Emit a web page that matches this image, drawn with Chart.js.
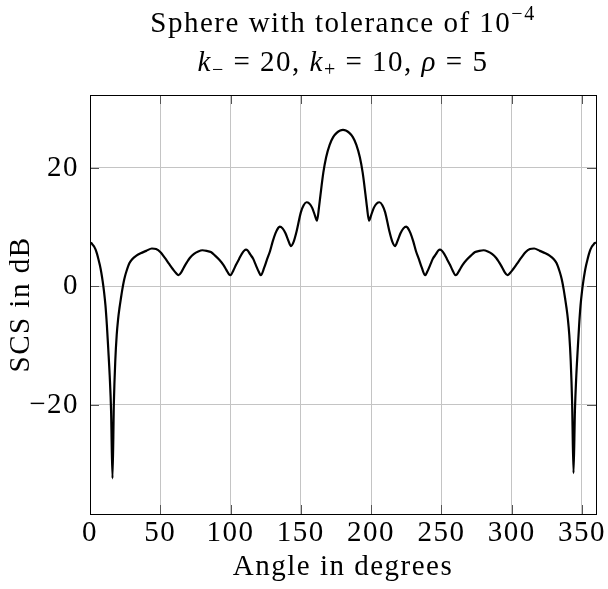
<!DOCTYPE html>
<html>
<head>
<meta charset="utf-8">
<title>Sphere with tolerance</title>
<script src="https://cdn.jsdelivr.net/npm/chart.js@4.4.0/dist/chart.umd.min.js"></script>
<style>
  html, body { margin: 0; padding: 0; background: #ffffff; }
  #wrap { width: 608px; height: 589px; position: relative; }
</style>
</head>
<body>
<div id="wrap"><canvas id="scsChart" width="608" height="589"></canvas></div>
<script>
// angle in degrees
const angles = [
  0, 1, 2, 3, 4, 5, 6, 7, 8, 9, 10, 11, 12, 13, 14, 15, 16, 17, 18, 19, 20,
  21, 22, 23, 24, 25, 26, 28, 30, 33, 36, 40, 44, 47, 50, 53, 56, 59, 61, 63,
  65, 67, 69, 71, 74, 77, 80, 83, 86, 89, 92, 95, 97, 99, 100, 102, 104, 106,
  108, 110, 111, 112, 114, 116, 118, 120, 121.5, 124, 126, 128, 130, 132, 134,
  135, 137, 139, 141, 143, 145, 147, 150, 152, 154, 156, 158, 160, 161.5, 163,
  164, 166, 168, 170.5, 173, 175.5, 178, 180,
  182, 184.5, 187, 189.5, 192, 194, 196, 197, 198.5, 200, 202, 204, 206, 208,
  210, 213, 215, 217, 219, 221, 223, 225, 226, 228, 230, 232, 234, 236, 238.5,
  240, 242, 244, 246, 248, 249, 250, 252, 254, 256, 258, 260, 261, 263, 265,
  268, 271, 274, 277, 280, 283, 286, 289, 291, 293, 295, 297, 299, 301, 304,
  307, 310, 313, 316, 320, 324, 327, 330, 332, 334, 335, 336, 337, 338, 339,
  340, 341, 342, 343, 344, 345, 346, 347, 348, 349, 350, 351, 352, 353, 354,
  355, 356, 357, 358, 359, 360
];

// SCS in dB
const scsValues = [
  7.4, 7.3, 7.0, 6.7, 6.2, 5.5, 4.6, 3.6, 2.4, 0.9, -0.9, -3.2, -6.5, -10.6, -15.0, -21.0, -32.4, -19.5, -12.5, -8.2, -5.5,
  -3.6, -2.0, -0.5, 0.8, 1.8, 2.6, 3.9, 4.6, 5.2, 5.6, 6.0, 6.4, 6.3, 5.8, 4.9, 3.9, 2.9, 2.3, 1.9,
  2.4, 3.3, 4.1, 4.8, 5.5, 5.9, 6.1, 6.0, 5.8, 5.2, 4.5, 3.6, 2.8, 2.0, 1.9, 2.7, 3.7, 4.6,
  5.5, 6.1, 6.2, 6.1, 5.4, 4.7, 3.6, 2.5, 1.9, 3.2, 4.6, 5.9, 7.6, 9.0, 9.9,
  10.1, 9.8, 9.0, 7.8, 6.8, 7.6, 9.3, 12.5, 13.7, 14.2, 14.0, 13.3, 12.0, 11.1, 13.5,
  15.5, 19.2, 21.8, 23.9, 25.2, 25.9, 26.3, 26.4,
  26.3, 25.9, 25.2, 23.9, 21.8, 19.2, 15.5, 13.5, 11.1, 12.0, 13.3, 14.0, 14.2, 13.7,
  12.5, 9.3, 7.6, 6.8, 7.8, 9.0, 9.8, 10.1, 9.9, 9.0, 7.6, 5.9, 4.6, 3.2, 1.9,
  2.5, 3.6, 4.7, 5.4, 6.1, 6.2, 6.1, 5.5, 4.6, 3.7, 2.7, 1.9, 2.0, 2.8, 3.6,
  4.5, 5.2, 5.8, 6.0, 6.1, 5.9, 5.5, 4.8, 4.1, 3.3, 2.4, 1.9, 2.3, 2.9, 3.9,
  4.9, 5.8, 6.3, 6.4, 6.0, 5.6, 5.2, 4.6, 3.9, 2.6, 1.8, 0.8, -0.5, -2.0, -3.6,
  -5.5, -8.2, -12.5, -19.5, -31.5, -21.0, -15.0, -10.6, -6.5, -3.2, -0.9, 0.9, 2.4, 3.6, 4.6,
  5.5, 6.2, 6.7, 7.0, 7.3, 7.4
];

const xTicks = [0, 50, 100, 150, 200, 250, 300, 350];
const yTicks = [-20, 0, 20];

const SERIF = "'Liberation Serif', 'Times New Roman', serif";

// title pieces: text, size, italic, vertical shift
const titleLine1 = [
  { t: "Sphere with tolerance of 10", s: 29 },
  { t: "\u22124", s: 20, dy: -12 }
];
const titleLine2 = [
  { t: "k", s: 29, it: true },
  { t: "\u2212", s: 20, dy: 5 },
  { t: " = 20, ", s: 29 },
  { t: "k", s: 29, it: true },
  { t: "+", s: 20, dy: 5 },
  { t: " = 10, ", s: 29 },
  { t: "\u03c1", s: 29, it: true },
  { t: " = 5", s: 29 }
];

function runFont(r) {
  return (r.it ? "italic " : "") + r.s + "px " + SERIF;
}

function drawRuns(ctx, runs, cx, baseline) {
  let total = 0;
  runs.forEach((r) => {
    ctx.font = runFont(r);
    r.w = ctx.measureText(r.t).width;
    total += r.w;
  });
  let x = cx - total / 2;
  runs.forEach((r) => {
    ctx.font = runFont(r);
    ctx.fillText(r.t, x, baseline + (r.dy || 0));
    x += r.w;
  });
}

// the reference font (Computer Modern) runs wider than Liberation Serif
const spacingPlugin = {
  id: "spacing",
  beforeDraw(chart) {
    chart.ctx.letterSpacing = "1.5px";
  }
};

const titlePlugin = {
  id: "mathTitle",
  afterDraw(chart) {
    const ctx = chart.ctx;
    const area = chart.chartArea;
    const cx = (area.left + area.right) / 2;
    ctx.save();
    ctx.fillStyle = "#000000";
    ctx.textAlign = "left";
    ctx.textBaseline = "alphabetic";
    drawRuns(ctx, titleLine1, cx, 32);
    drawRuns(ctx, titleLine2, cx, 71);
    ctx.restore();
  }
};

// frame and inward tick marks on all four sides
const framePlugin = {
  id: "frame",
  afterDraw(chart) {
    const ctx = chart.ctx;
    const a = chart.chartArea;
    const xs = chart.scales.x;
    const ys = chart.scales.y;
    const len = 9;
    ctx.save();
    ctx.strokeStyle = "#555555";
    ctx.lineWidth = 1;
    ctx.beginPath();
    xTicks.forEach((v) => {
      const px = Math.round(xs.getPixelForValue(v)) + 0.5;
      ctx.moveTo(px, a.top);
      ctx.lineTo(px, a.top + len);
      ctx.moveTo(px, a.bottom);
      ctx.lineTo(px, a.bottom - len);
    });
    yTicks.forEach((v) => {
      const py = Math.round(ys.getPixelForValue(v)) + 0.5;
      ctx.moveTo(a.left, py);
      ctx.lineTo(a.left + len, py);
      ctx.moveTo(a.right, py);
      ctx.lineTo(a.right - len, py);
    });
    ctx.stroke();
    ctx.strokeStyle = "#000000";
    ctx.strokeRect(
      Math.round(a.left) + 0.5,
      Math.round(a.top) + 0.5,
      Math.round(a.right - a.left),
      Math.round(a.bottom - a.top)
    );
    ctx.restore();
  }
};

const ctx = document.getElementById("scsChart").getContext("2d");
new Chart(ctx, {
  type: "line",
  data: {
    datasets: [
      {
        data: angles.map((a, i) => ({ x: a, y: scsValues[i] })),
        borderColor: "#000000",
        borderWidth: 2.2,
        pointRadius: 0,
        cubicInterpolationMode: "monotone",
        fill: false
      }
    ]
  },
  options: {
    responsive: false,
    animation: false,
    layout: {
      padding: { top: 95, right: 12, left: 0, bottom: 0 }
    },
    plugins: {
      legend: { display: false },
      title: { display: false },
      tooltip: { enabled: false }
    },
    scales: {
      x: {
        type: "linear",
        min: 0,
        max: 360,
        afterFit: (scale) => {
          scale.height = 75;
        },
        afterBuildTicks: (scale) => {
          scale.ticks = xTicks.map((v) => ({ value: v }));
        },
        ticks: {
          color: "#000000",
          font: { family: SERIF, size: 29 },
          padding: 2,
          maxRotation: 0,
          autoSkip: false
        },
        grid: {
          color: "#c4c4c4",
          lineWidth: 1,
          drawTicks: false
        },
        border: { display: false },
        title: {
          display: true,
          text: "Angle in degrees",
          color: "#000000",
          font: { family: SERIF, size: 29 },
          padding: { top: 4, bottom: 4 }
        }
      },
      y: {
        min: -38.4,
        max: 32.3,
        afterFit: (scale) => {
          scale.width = 90;
        },
        afterBuildTicks: (scale) => {
          scale.ticks = yTicks.map((v) => ({ value: v }));
        },
        ticks: {
          color: "#000000",
          font: { family: SERIF, size: 29 },
          padding: 11,
          callback: (v) => (v < 0 ? "\u2212" + Math.abs(v) : String(v))
        },
        grid: {
          color: "#c4c4c4",
          lineWidth: 1,
          drawTicks: false
        },
        border: { display: false },
        title: {
          display: true,
          text: "SCS in dB",
          color: "#000000",
          font: { family: SERIF, size: 29 },
          padding: { top: 4, bottom: 4 }
        }
      }
    }
  },
  plugins: [spacingPlugin, titlePlugin, framePlugin]
});
</script>
</body>
</html>
